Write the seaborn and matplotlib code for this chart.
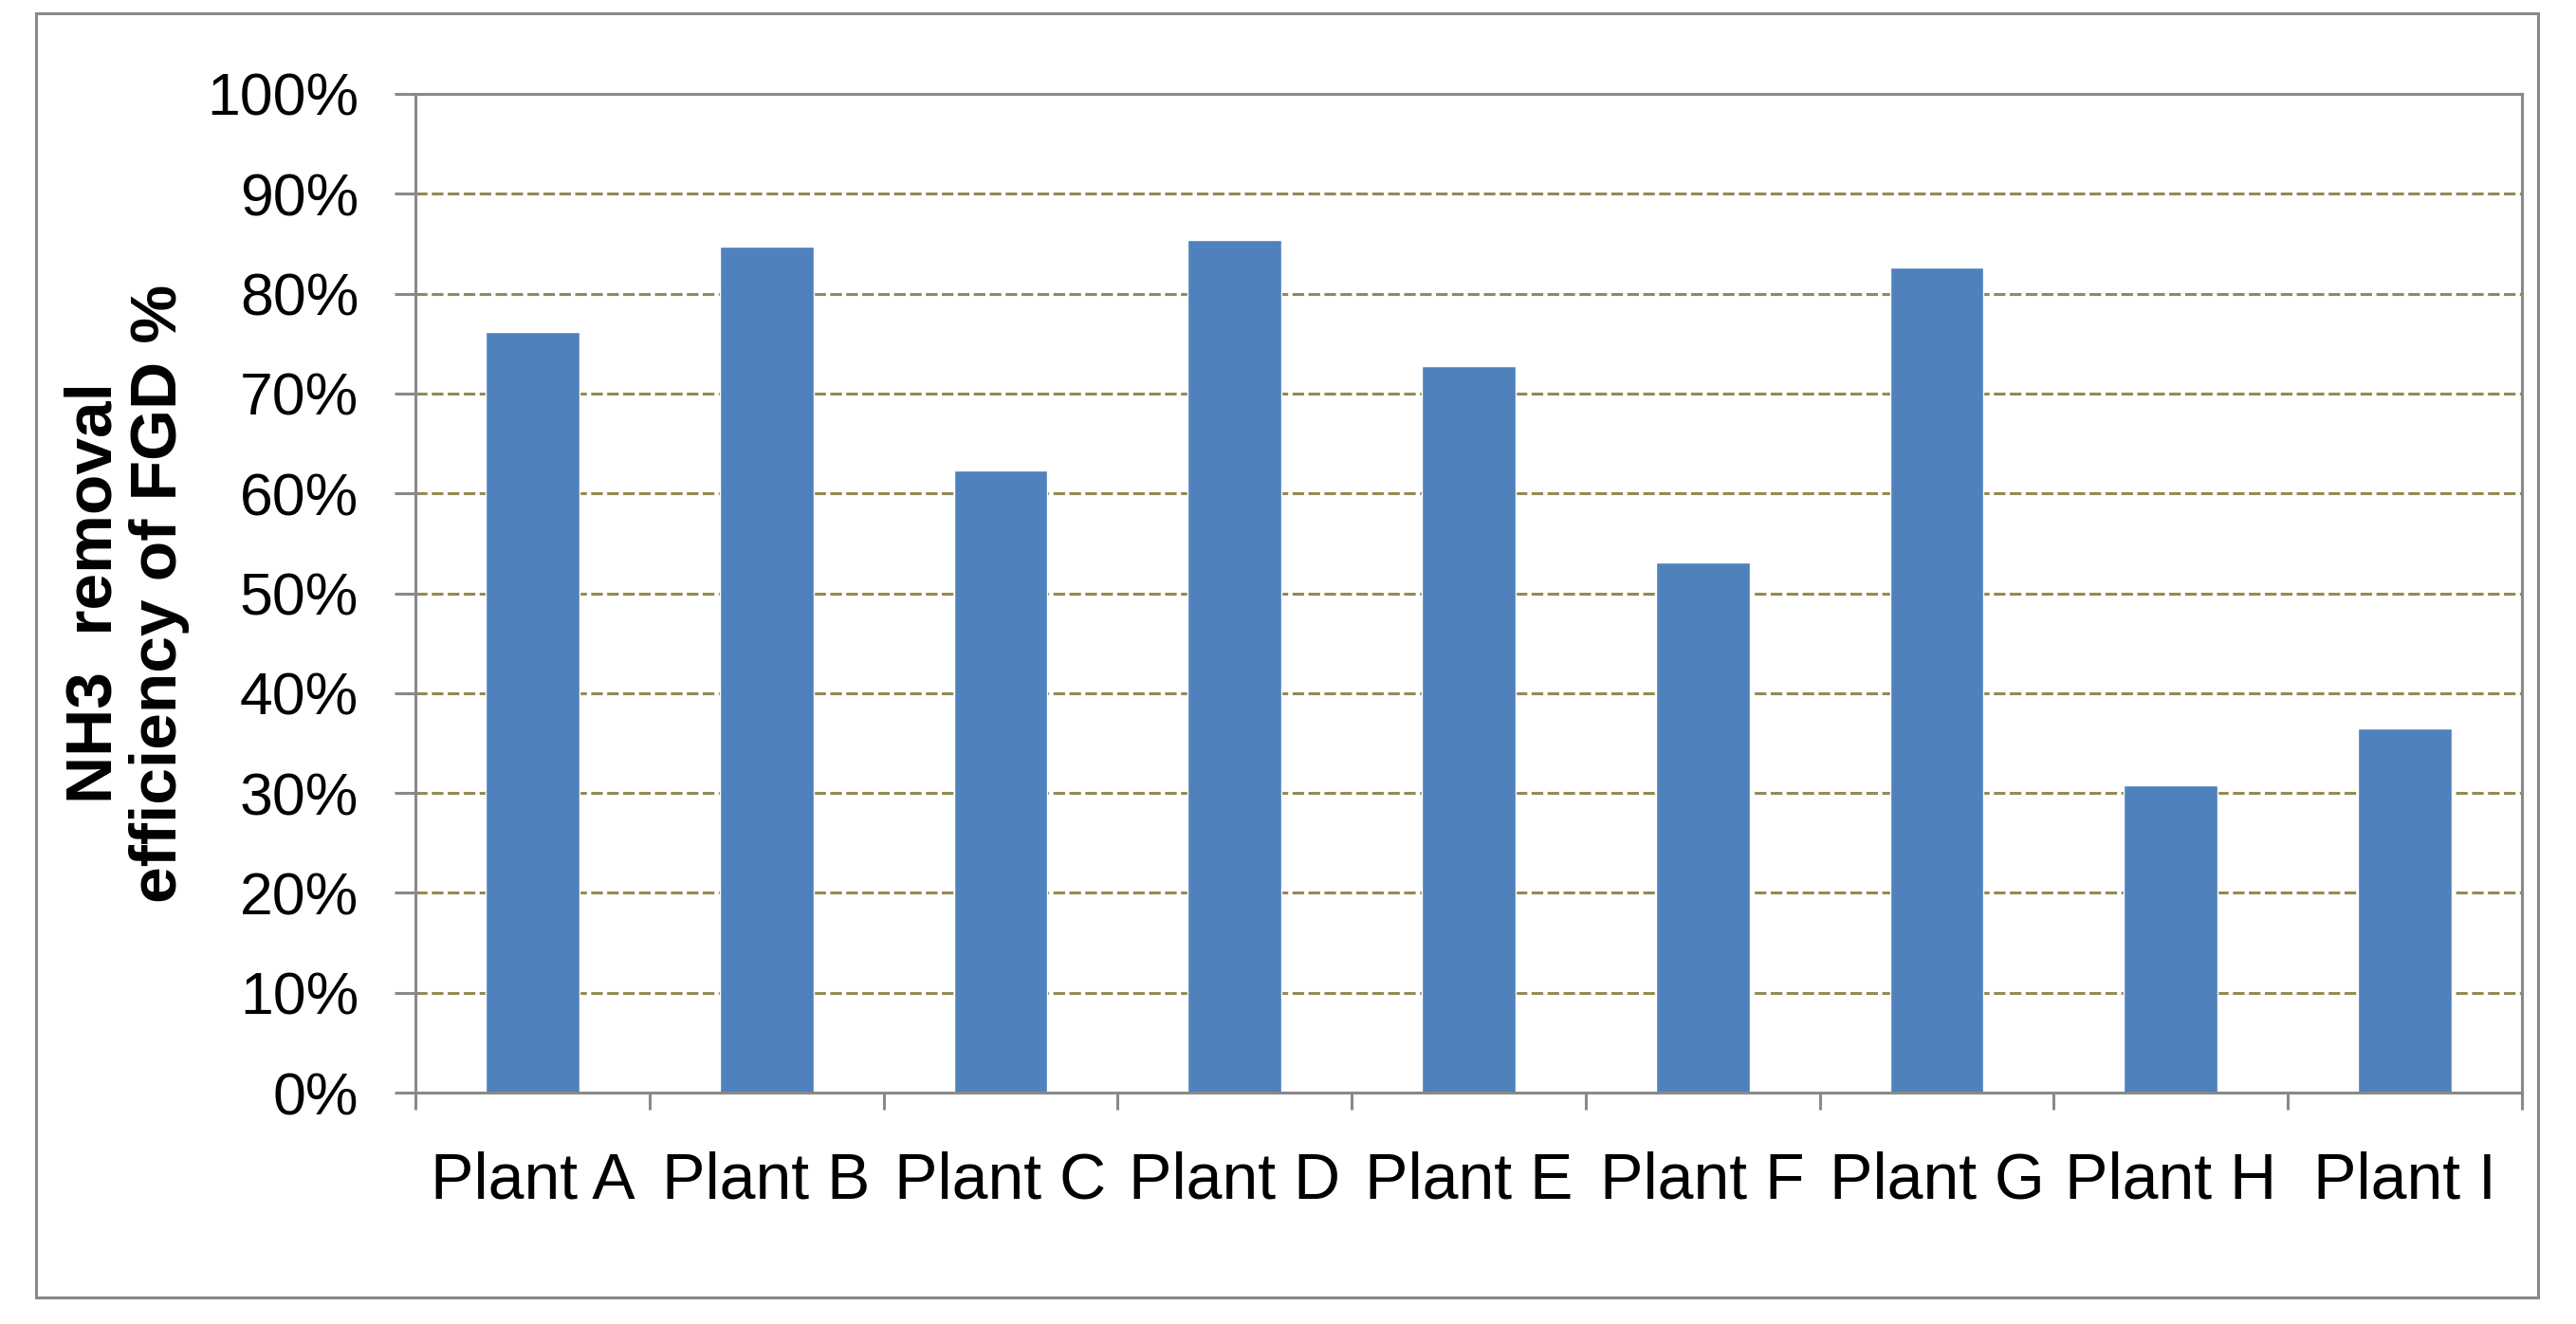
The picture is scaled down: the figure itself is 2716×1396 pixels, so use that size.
import matplotlib
matplotlib.use("Agg")
import matplotlib.pyplot as plt
import matplotlib.ticker as mticker
from matplotlib.patches import Rectangle
import numpy as np
import pandas as pd
import seaborn as sns

# dati
plants = ["Plant A", "Plant B", "Plant C", "Plant D", "Plant E",
          "Plant F", "Plant G", "Plant H", "Plant I"]
efficiency = [0.762, 0.847, 0.623, 0.854, 0.727, 0.531, 0.826, 0.308, 0.365]
y_ticks = [0.0, 0.1, 0.2, 0.3, 0.4, 0.5, 0.6, 0.7, 0.8, 0.9, 1.0]
y_label = "NH3  removal\nefficiency of FGD %"

bar_color = "#4F81BD"
axis_grey = "#898989"
grid_color = "#948A54"

sns.set_style("white")
plt.rcParams["font.family"] = ["Liberation Sans", "DejaVu Sans"]

df = pd.DataFrame({"plant": plants, "eff": efficiency})

fig = plt.figure(figsize=(27.16, 13.96), dpi=100)
ax = fig.add_axes([438 / 2716, 1 - 1152 / 1396, (2659 - 438) / 2716, (1152 - 99) / 1396])

# griglia tratteggiata dietro le barre
ax.set_axisbelow(True)
for v in y_ticks[1:-1]:
    ax.axhline(v, color=grid_color, lw=2.2, ls=(0, (4, 1.5)), zorder=0)

sns.barplot(data=df, x="plant", y="eff", color=bar_color, saturation=1,
            width=0.4, ax=ax, zorder=2)

ax.set_ylim(0, 1.0)
ax.set_xlim(-0.5, len(plants) - 0.5)
ax.set_yticks(y_ticks)
ax.yaxis.set_major_formatter(mticker.PercentFormatter(1.0, decimals=0))
ax.tick_params(axis="y", direction="out", length=16, width=2.2, color=axis_grey,
               labelsize=45, labelcolor="black", pad=27, left=True)

# tick di categoria ai bordi, etichette al centro
ax.set_xticks(np.arange(len(plants)))
ax.set_xticklabels(plants)
ax.set_xticks(np.arange(len(plants) + 1) - 0.5, minor=True)
ax.tick_params(axis="x", which="major", length=0, labelsize=49,
               labelcolor="black", pad=44)
ax.tick_params(axis="x", which="minor", direction="out", length=13, width=2.2,
               color=axis_grey, bottom=True)

ax.set_xlabel("")
ax.set_ylabel(y_label, fontsize=50, fontweight="bold", linespacing=1.1,
              color="black")
ax.yaxis.set_label_coords(-0.137, 0.5)
ax.yaxis.label.set_va("center")

for s in ax.spines.values():
    s.set_visible(True)
    s.set_color(axis_grey)
    s.set_linewidth(2.2)

# cornice esterna
fig.patches.append(Rectangle((38 / 2716, 1 - 1368 / 1396), (2676 - 38) / 2716,
                             (1368 - 14) / 1396, transform=fig.transFigure,
                             fill=False, edgecolor=axis_grey, lw=2.2))

fig.savefig("out.png", dpi=100, facecolor="white")
